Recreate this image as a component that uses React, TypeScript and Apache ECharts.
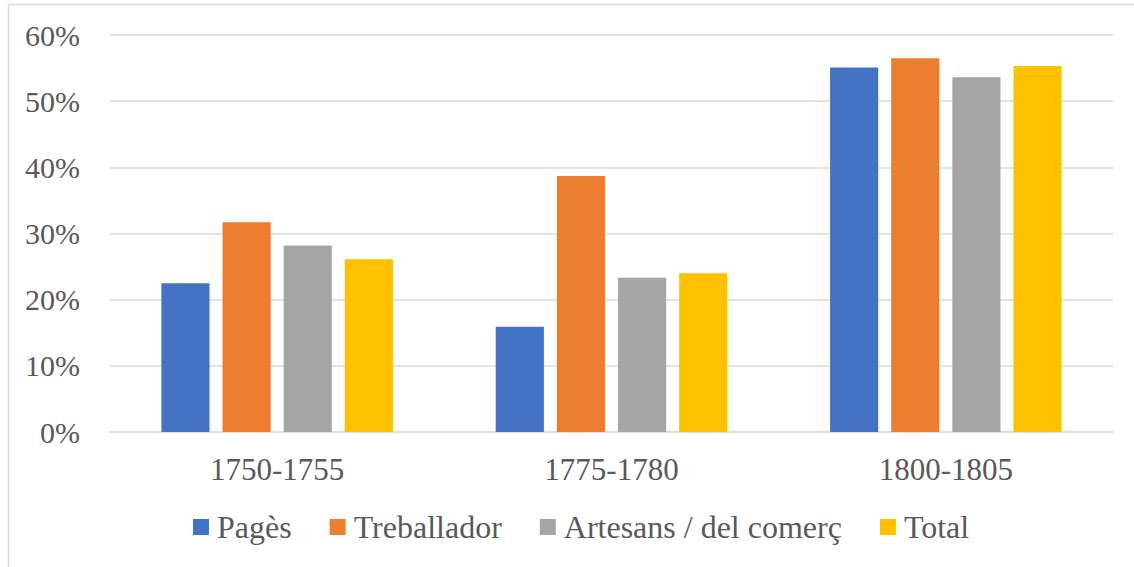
import React, { useEffect, useRef } from "react";
import * as echarts from "echarts";

const categories = ["1750-1755", "1775-1780", "1800-1805"];
const seriesNames = ["Pagès", "Treballador", "Artesans / del comerç", "Total"];
const pages = [22.5, 15.9, 55.1];
const treballador = [31.7, 38.7, 56.5];
const artesans = [28.2, 23.3, 53.6];
const total = [26.1, 24.0, 55.3];
const colors = ["#4472C4", "#ED7D31", "#A5A5A5", "#FFC000"];
const yTicks = [0, 10, 20, 30, 40, 50, 60];

export default function App() {
  const ref = useRef<HTMLDivElement>(null);
  useEffect(() => {
    if (!ref.current) return;
    const chart = echarts.init(ref.current, null, { renderer: "svg" });
    const font = "Times New Roman, Liberation Serif, DejaVu Serif, serif";
    const data = [pages, treballador, artesans, total];
    chart.setOption({
      animation: false,
      textStyle: { fontFamily: font },
      graphic: [
        {
          type: "rect",
          shape: { x: 8.5, y: 4.5, width: 1300, height: 800 },
          style: { fill: "none", stroke: "#d9d9d9", lineWidth: 1.5 },
          silent: true,
        },
      ],
      grid: { left: 110, right: 21, top: 35, bottom: 135 },
      legend: {
        data: seriesNames,
        bottom: 19,
        left: 188,
        icon: "rect",
        itemWidth: 16,
        itemHeight: 16,
        itemGap: 38,
        textStyle: { fontSize: 32, color: "#595959", fontFamily: font, padding: [0, 0, 0, 3] },
      },
      xAxis: {
        type: "category",
        data: categories,
        axisLine: { lineStyle: { color: "#d9d9d9", width: 1.5 } },
        axisTick: { show: false },
        axisLabel: { fontSize: 31, color: "#595959", margin: 22, fontFamily: font },
      },
      yAxis: {
        type: "value",
        min: yTicks[0],
        max: yTicks[yTicks.length - 1],
        interval: 10,
        axisLine: { show: false },
        axisTick: { show: false },
        splitLine: { lineStyle: { color: "#d9d9d9", width: 1.5 } },
        axisLabel: {
          fontSize: 30,
          color: "#595959",
          margin: 30,
          fontFamily: font,
          formatter: (v: number) => `${v}%`,
        },
      },
      series: seriesNames.map((name, i) => ({
        name,
        type: "bar",
        data: data[i],
        barWidth: "14.4%",
        barGap: "27%",
        itemStyle: { color: colors[i] },
      })),
    });
    return () => chart.dispose();
  }, []);
  return (
    <div
      ref={ref}
      style={{ position: "fixed", left: 0, top: 0, width: 1134, height: 567, background: "#fff" }}
    />
  );
}
